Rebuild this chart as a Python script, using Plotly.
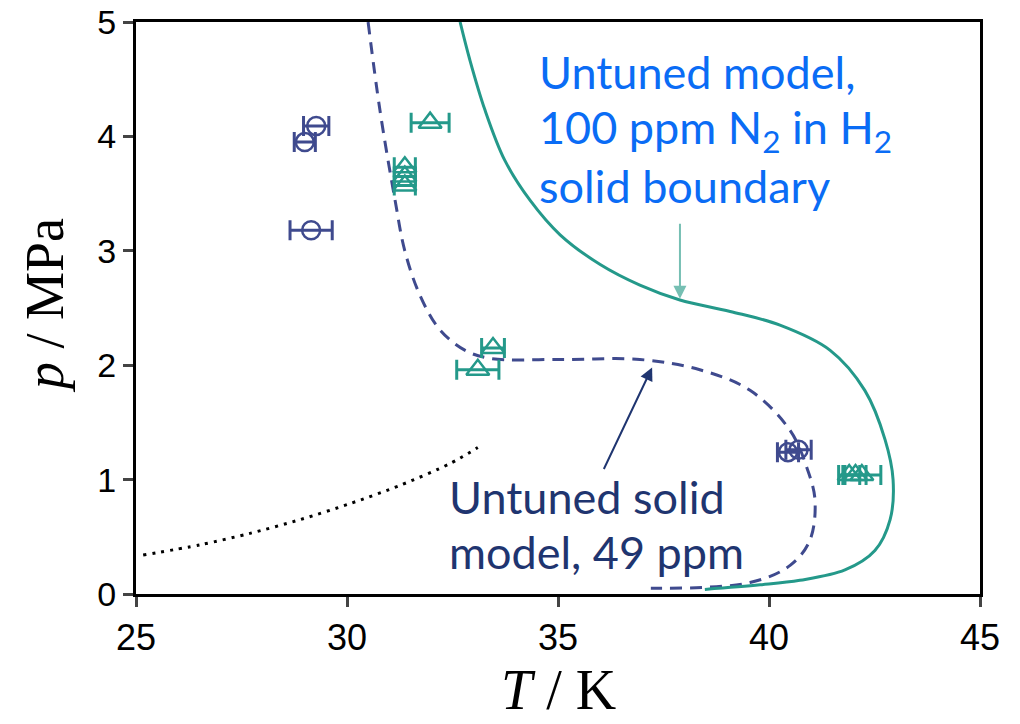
import plotly.graph_objects as go

# ---- data ----
circ_T = [29.27, 29.0, 29.15, 40.45, 40.7]
circ_p = [4.09, 3.95, 3.18, 1.24, 1.26]
circ_err = [0.3, 0.25, 0.5, 0.25, 0.3]

tri_T = [31.97, 31.37, 31.37, 31.37, 33.46, 33.1, 41.9, 42.05, 42.2]
tri_p = [4.12, 3.73, 3.65, 3.57, 2.15, 1.96, 1.04, 1.04, 1.04]
tri_err = [0.45, 0.25, 0.25, 0.25, 0.27, 0.5, 0.25, 0.25, 0.45]

dash_T = [30.50, 30.78, 31.14, 31.37, 31.73, 32.2, 32.8, 33.39, 35.05, 36.94,
          38.36, 39.55, 40.5, 40.92, 41.09, 40.97, 40.5, 39.55, 37.2]
dash_p = [5.0, 4.23, 3.44, 3.0, 2.61, 2.31, 2.13, 2.06, 2.05, 2.05,
          1.96, 1.78, 1.43, 1.08, 0.82, 0.47, 0.25, 0.10, 0.05]

solid_T = [32.68, 32.91, 33.27, 33.74, 34.34, 35.05, 36.0, 36.94, 37.89, 39.08,
           40.26, 41.45, 42.27, 42.75, 42.94, 42.87, 42.51, 41.8, 40.73, 39.79, 38.48]
solid_p = [5.0, 4.67, 4.23, 3.79, 3.44, 3.14, 2.88, 2.70, 2.57, 2.47,
           2.35, 2.13, 1.78, 1.35, 1.0, 0.65, 0.38, 0.21, 0.12, 0.08, 0.04]

dot_T = [25.17, 26.52, 27.7, 28.89, 30.07, 31.26, 32.44, 33.1]
dot_p = [0.34, 0.43, 0.53, 0.65, 0.79, 0.95, 1.14, 1.28]

x_ticks = [25, 30, 35, 40, 45]
y_ticks = [0, 1, 2, 3, 4, 5]

NAVY = "#3f4a8e"
TEAL = "#24998a"

fig = go.Figure()

fig.add_trace(go.Scatter(x=dot_T, y=dot_p, mode="lines",
                         line=dict(color="black", width=3, dash="3px,6px", shape="spline", smoothing=0.8),
                         showlegend=False))
fig.add_trace(go.Scatter(x=dash_T, y=dash_p, mode="lines",
                         line=dict(color=NAVY, width=3, dash="12px,8px", shape="spline"),
                         showlegend=False))
fig.add_trace(go.Scatter(x=solid_T, y=solid_p, mode="lines",
                         line=dict(color=TEAL, width=3, shape="spline"),
                         showlegend=False))

fig.add_trace(go.Scatter(x=circ_T, y=circ_p, mode="markers",
                         marker=dict(symbol="circle-open", size=18, color=NAVY,
                                     line=dict(width=2.5, color=NAVY)),
                         error_x=dict(type="data", array=circ_err, color=NAVY,
                                      thickness=3, width=10),
                         showlegend=False))
fig.add_trace(go.Scatter(x=tri_T, y=tri_p, mode="markers",
                         marker=dict(symbol="triangle-up-open", size=20, color=TEAL,
                                     line=dict(width=2.5, color=TEAL)),
                         error_x=dict(type="data", array=tri_err, color=TEAL,
                                      thickness=3, width=10),
                         showlegend=False))

# arrows
fig.add_annotation(x=37.89, y=2.58, ax=37.89, ay=3.25, xref="x", yref="y",
                   axref="x", ayref="y", text="", showarrow=True,
                   arrowhead=2, arrowsize=1.3, arrowwidth=2, arrowcolor="#76bfb3")
fig.add_annotation(x=37.23, y=1.98, ax=36.07, ay=1.08, xref="x", yref="y",
                   axref="x", ayref="y", text="", showarrow=True,
                   arrowhead=2, arrowsize=1.3, arrowwidth=2, arrowcolor="#1f3570")

BLUE = "#0a6cf5"
DARK = "#1f3570"
TFONT = "Lato, Open Sans, sans-serif"
for txt, pp in [("Untuned model,", 4.56), ("100 ppm N<sub>2</sub> in H<sub>2</sub>", 4.06),
                ("solid boundary", 3.57)]:
    fig.add_annotation(x=34.5, y=pp, xref="x", yref="y",
                       text=txt, showarrow=False, xanchor="left", yanchor="middle",
                       font=dict(family=TFONT, size=45, color=BLUE))
for txt, pp in [("Untuned solid", 0.85), ("model, 49 ppm", 0.37)]:
    fig.add_annotation(x=32.37, y=pp, xref="x", yref="y",
                       text=txt, showarrow=False, xanchor="left", yanchor="middle",
                       font=dict(family=TFONT, size=45, color=DARK))

SERIF = "Liberation Serif, DejaVu Serif, serif"
# axis titles
fig.add_annotation(x=0.5, y=-0.168, xref="paper", yref="paper", text="<i>T</i> / K",
                   showarrow=False, xanchor="center", yanchor="middle",
                   font=dict(family=SERIF, size=56, color="black"))
fig.add_annotation(x=-0.108, y=0.505, xref="paper", yref="paper", text="<i>p</i> / MPa",
                   showarrow=False, xanchor="center", yanchor="middle", textangle=-90,
                   font=dict(family=SERIF, size=54, color="black"))

fig.update_layout(
    width=1004, height=716,
    margin=dict(l=128, r=32, t=14, b=130, autoexpand=False),
    plot_bgcolor="white", paper_bgcolor="white",
    xaxis=dict(range=[25, 45], tickvals=x_ticks, ticks="outside", ticklen=10,
               tickwidth=3, showline=True, linewidth=3, linecolor="black",
               mirror=True, showgrid=False, zeroline=False, automargin=False,
               ticklabeloverflow="allow",
               tickfont=dict(family="Liberation Sans Narrow, Liberation Sans, Arial", size=36, color="black")),
    yaxis=dict(range=[0, 5], tickvals=y_ticks, ticks="outside", ticklen=10,
               tickwidth=3, showline=True, linewidth=3, linecolor="black",
               mirror=True, showgrid=False, zeroline=False, automargin=False,
               ticklabeloverflow="allow",
               tickfont=dict(family="Liberation Sans, Arial", size=34, color="black")),
)

fig.write_html("out.html")
